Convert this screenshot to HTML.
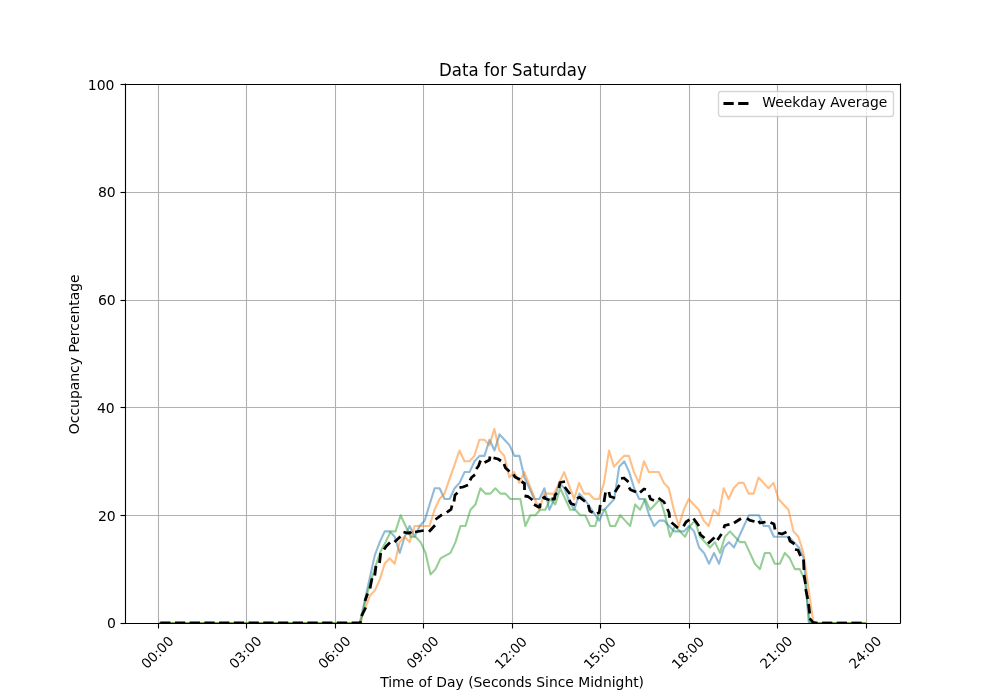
<!DOCTYPE html>
<html lang="en"><head><meta charset="utf-8"><title>Data for Saturday</title>
<style>html,body{margin:0;padding:0;background:#fff}body{width:1000px;height:700px;overflow:hidden}svg{display:block}text{font-family:"DejaVu Sans","Liberation Sans",sans-serif;fill:#000}</style></head><body>
<svg width="1000" height="700" viewBox="0 0 1000 700">
<rect x="0" y="0" width="1000" height="700" fill="#ffffff"/>
<defs><clipPath id="ax"><rect x="125" y="84" width="775" height="539"/></clipPath></defs>
<g stroke="#b0b0b0" stroke-width="1.111" fill="none" clip-path="url(#ax)">
<line x1="158.5" y1="84" x2="158.5" y2="623"/>
<line x1="246.5" y1="84" x2="246.5" y2="623"/>
<line x1="335.5" y1="84" x2="335.5" y2="623"/>
<line x1="423.5" y1="84" x2="423.5" y2="623"/>
<line x1="512.5" y1="84" x2="512.5" y2="623"/>
<line x1="600.5" y1="84" x2="600.5" y2="623"/>
<line x1="689.5" y1="84" x2="689.5" y2="623"/>
<line x1="777.5" y1="84" x2="777.5" y2="623"/>
<line x1="866.5" y1="84" x2="866.5" y2="623"/>
<line x1="125" y1="623.5" x2="900" y2="623.5"/>
<line x1="125" y1="515.5" x2="900" y2="515.5"/>
<line x1="125" y1="407.5" x2="900" y2="407.5"/>
<line x1="125" y1="300.5" x2="900" y2="300.5"/>
<line x1="125" y1="192.5" x2="900" y2="192.5"/>
<line x1="125" y1="84.5" x2="900" y2="84.5"/>
</g>
<g stroke="#000" stroke-width="1.111" fill="none">
<line x1="158.5" y1="623.5" x2="158.5" y2="628.5"/>
<line x1="246.5" y1="623.5" x2="246.5" y2="628.5"/>
<line x1="335.5" y1="623.5" x2="335.5" y2="628.5"/>
<line x1="423.5" y1="623.5" x2="423.5" y2="628.5"/>
<line x1="512.5" y1="623.5" x2="512.5" y2="628.5"/>
<line x1="600.5" y1="623.5" x2="600.5" y2="628.5"/>
<line x1="689.5" y1="623.5" x2="689.5" y2="628.5"/>
<line x1="777.5" y1="623.5" x2="777.5" y2="628.5"/>
<line x1="866.5" y1="623.5" x2="866.5" y2="628.5"/>
<line x1="125.5" y1="623.5" x2="120.5" y2="623.5"/>
<line x1="125.5" y1="515.5" x2="120.5" y2="515.5"/>
<line x1="125.5" y1="407.5" x2="120.5" y2="407.5"/>
<line x1="125.5" y1="300.5" x2="120.5" y2="300.5"/>
<line x1="125.5" y1="192.5" x2="120.5" y2="192.5"/>
<line x1="125.5" y1="84.5" x2="120.5" y2="84.5"/>
</g>
<g fill="none" stroke-linejoin="round" clip-path="url(#ax)">
<polyline stroke="#1f77b4" stroke-opacity="0.5" stroke-width="2.083" stroke-linecap="square" points="160.20,623.00 359.79,623.00 374.76,555.36 379.75,542.15 384.74,531.37 389.73,531.37 394.72,536.76 399.71,552.93 404.69,536.76 409.68,525.98 414.67,536.76 419.66,525.98 424.65,520.59 429.64,504.42 434.63,488.25 439.62,488.25 444.61,499.03 449.60,499.03 454.58,488.25 459.57,482.86 464.56,472.08 469.55,472.08 474.54,461.30 479.53,455.91 484.52,455.91 489.51,439.74 494.50,450.52 499.49,434.35 504.48,439.74 509.46,445.13 514.45,455.91 519.44,455.91 524.43,477.47 529.42,488.25 534.41,499.03 539.40,499.03 544.39,488.25 549.38,509.81 554.37,499.03 559.35,482.86 564.34,488.25 569.33,501.73 574.32,509.81 579.31,493.64 584.30,499.03 589.29,506.04 594.28,513.58 599.27,520.59 604.25,509.81 609.24,504.42 614.23,499.03 619.22,466.69 624.21,461.30 629.20,472.08 634.19,488.25 639.18,499.03 644.17,499.03 649.16,515.20 654.14,525.98 659.13,520.59 664.12,520.59 669.11,525.98 674.10,531.37 679.09,531.37 684.08,531.37 689.07,525.98 694.06,531.37 699.05,547.54 704.03,552.93 709.02,563.71 714.01,552.93 719.00,563.71 723.99,547.54 728.98,542.15 733.97,547.54 738.96,536.76 743.95,525.98 748.94,515.20 753.92,515.20 758.91,515.20 763.90,525.98 768.89,525.98 773.88,536.76 778.87,536.76 783.86,536.76 788.85,536.76 793.84,542.15 798.83,547.54 803.82,558.32 808.80,623.00 864.80,623.00"/>
<polyline stroke="#ff7f0e" stroke-opacity="0.5" stroke-width="2.083" stroke-linecap="square" points="160.20,623.00 359.75,623.00 364.74,609.52 369.73,596.05 374.71,590.66 379.69,579.88 384.68,563.71 389.67,558.32 394.65,563.71 399.63,542.15 404.62,536.76 409.61,542.15 414.59,525.98 419.57,525.98 424.56,525.98 429.55,525.98 434.53,509.81 439.51,499.03 444.50,493.64 449.49,479.09 454.47,465.07 459.45,450.52 464.44,461.30 469.43,461.30 474.41,455.91 479.39,439.74 484.38,439.74 489.37,445.13 494.35,428.96 499.33,450.52 504.32,455.91 509.31,477.47 514.29,472.08 519.27,482.86 524.26,472.08 529.25,484.48 534.23,497.41 539.22,509.81 544.20,493.64 549.18,493.64 554.17,493.64 559.15,482.86 564.14,472.08 569.12,485.56 574.11,499.03 579.10,482.86 584.08,493.64 589.07,493.64 594.05,499.03 599.03,499.03 604.02,482.86 609.00,450.52 613.99,466.69 618.98,461.30 623.96,455.91 628.95,455.91 633.93,472.08 638.91,482.86 643.90,461.30 648.88,472.08 653.87,472.08 658.86,472.08 663.84,482.86 668.83,488.25 673.81,509.81 678.80,525.98 683.78,509.81 688.76,499.03 693.75,504.42 698.74,509.81 703.72,520.59 708.71,525.98 713.69,509.81 718.67,515.20 723.66,488.25 728.64,499.03 733.63,488.25 738.62,482.86 743.60,482.86 748.59,493.64 753.57,493.64 758.56,477.47 763.54,482.86 768.53,488.25 773.51,482.86 778.50,499.03 783.48,504.42 788.47,509.81 793.45,531.37 798.43,536.76 803.42,552.93 813.39,623.00 864.80,623.00"/>
<polyline stroke="#2ca02c" stroke-opacity="0.5" stroke-width="2.083" stroke-linecap="square" points="160.20,623.00 360.68,623.00 365.67,598.75 370.66,581.50 375.65,565.87 380.64,551.31 385.63,542.15 390.62,531.37 395.61,531.37 400.60,515.20 405.59,525.98 410.58,536.76 415.57,536.76 420.56,542.15 425.55,552.93 430.54,574.49 435.53,569.10 440.52,558.32 445.51,555.62 450.50,552.93 455.49,542.15 460.48,525.98 465.47,525.98 470.46,509.81 475.45,504.42 480.44,488.25 485.43,493.64 490.42,493.64 495.41,488.25 500.40,493.64 505.39,493.64 510.38,499.03 515.37,499.03 520.36,499.03 525.35,525.98 530.34,515.20 535.33,515.20 540.32,509.81 545.31,509.81 550.30,499.03 555.29,504.42 560.28,488.25 565.27,499.03 570.26,509.81 575.25,509.81 580.24,515.20 585.23,515.20 590.22,525.98 595.21,525.98 600.20,509.81 605.19,509.81 610.18,525.98 615.17,525.98 620.16,515.20 625.15,520.59 630.14,525.98 635.13,504.42 640.12,509.81 645.11,499.03 650.10,509.81 655.09,504.42 660.08,499.03 665.07,515.20 670.06,536.76 675.05,525.98 680.04,531.37 685.03,536.76 690.02,525.98 695.01,520.59 700.00,536.76 704.99,542.15 709.98,547.54 714.97,542.15 719.96,552.93 724.95,536.76 729.94,531.37 734.93,536.76 739.92,542.15 744.91,542.15 749.90,552.93 754.89,563.71 759.88,569.10 764.87,552.93 769.86,552.93 774.85,563.71 779.84,563.71 784.83,552.93 789.82,558.32 794.81,569.10 799.80,569.10 804.79,579.88 809.78,623.00 864.80,623.00"/>
<g stroke="#000000" stroke-width="2.778" stroke-linecap="butt" stroke-linejoin="round" fill="none" clip-path="url(#ax)">
<line x1="160.23" y1="623" x2="351" y2="623" stroke-dasharray="10.278 4.444"/>
<polyline points="351.60,623.00 360.30,623.00 360.90,621.20"/>
<polyline points="361.50,616.00 365.75,607.50"/>
<polyline points="365.00,601.00 367.60,593.50"/>
<polyline points="370.00,588.50 371.75,579.50 372.80,580.20"/>
<polyline points="374.75,575.50 376.00,566.00"/>
<polyline points="379.50,563.00 380.70,553.00"/>
<polyline points="384.00,549.50 386.00,546.50 390.00,542.50"/>
<polyline points="394.50,542.00 400.50,536.50"/>
<polyline points="403.50,532.00 407.00,533.00 410.00,533.00 411.00,531.50"/>
<polyline points="415.00,532.00 423.70,530.50"/>
<polyline points="429.00,531.70 435.00,525.20"/>
<polyline points="435.50,519.50 442.00,514.70"/>
<polyline points="446.80,512.30 451.00,509.30 452.00,505.50"/>
<polyline points="454.00,501.50 455.00,495.00 457.50,492.70"/>
<polyline points="459.50,487.70 463.00,487.00 468.00,485.00"/>
<polyline points="470.00,480.30 471.50,477.50 475.00,474.70"/>
<polyline points="476.20,469.00 478.50,466.00 480.50,460.50"/>
<polyline points="484.50,462.50 489.50,460.00 490.00,456.50"/>
<polyline points="493.50,457.80 498.00,459.00 501.00,461.00"/>
<polyline points="504.00,464.00 505.50,468.00 509.50,471.50"/>
<polyline points="513.50,474.30 515.00,477.00 520.00,479.50"/>
<polyline points="521.50,481.50 524.50,483.50 524.50,490.00"/>
<polyline points="524.50,496.00 528.00,496.50 532.50,500.00"/>
<polyline points="534.00,504.50 538.50,507.00 540.00,507.00 540.00,503.50"/>
<polyline points="542.50,498.50 544.50,497.00 545.00,498.50 549.50,500.00"/>
<polyline points="551.50,499.00 554.50,499.00 555.00,495.00 557.00,493.00"/>
<polyline points="559.00,488.00 560.00,482.50 565.00,481.50"/>
<polyline points="564.70,487.00 570.00,494.00"/>
<polyline points="569.20,500.00 571.00,503.50 575.00,505.00"/>
<polyline points="577.00,498.50 579.50,497.20 585.00,501.50"/>
<polyline points="588.25,505.00 589.75,511.00 592.75,512.50"/>
<polyline points="597.00,513.50 599.25,512.50 600.25,505.00"/>
<polyline points="604.00,502.00 605.50,492.50"/>
<polyline points="609.00,492.00 610.00,496.50 615.00,498.00"/>
<polyline points="615.00,492.00 619.50,485.00"/>
<polyline points="621.00,478.50 624.00,478.00 628.50,482.00"/>
<polyline points="629.00,487.50 630.50,489.70 636.00,492.00"/>
<polyline points="640.00,492.50 644.00,489.00 646.00,489.50"/>
<polyline points="649.00,495.00 650.50,499.00 654.00,500.50"/>
<polyline points="658.50,498.00 664.00,502.00 665.00,504.00"/>
<polyline points="667.30,509.00 669.00,512.50 669.70,517.80"/>
<polyline points="671.50,522.50 678.00,528.00"/>
<polyline points="683.50,526.30 686.00,522.00 689.50,519.70"/>
<polyline points="693.50,518.50 699.00,526.00"/>
<polyline points="699.50,532.00 700.50,534.70 704.50,538.00"/>
<polyline points="708.00,543.50 714.50,537.50"/>
<polyline points="717.50,540.00 721.50,534.00"/>
<polyline points="724.00,528.20 724.50,525.50 729.50,524.30"/>
<polyline points="734.00,523.00 741.00,518.50"/>
<polyline points="747.00,518.30 750.00,520.30 754.50,521.50"/>
<polyline points="758.50,521.00 760.00,523.00 765.50,522.00"/>
<polyline points="770.50,522.50 774.00,524.00 775.00,529.50"/>
<polyline points="778.00,533.00 782.00,534.00 786.50,532.00"/>
<polyline points="788.50,536.50 790.00,541.00 794.50,544.00"/>
<polyline points="795.00,549.50 798.00,550.00 800.50,556.00"/>
<polyline points="803.50,559.50 804.00,570.00"/>
<polyline points="804.00,575.00 805.50,584.00"/>
<polyline points="805.70,589.00 807.75,599.00"/>
<polyline points="808.50,604.00 809.75,613.50"/>
<polyline points="809.60,618.30 813.00,622.30 817.50,623.00"/>
<polyline points="822.00,623.00 832.30,623.00"/>
<polyline points="836.70,623.00 847.00,623.00"/>
<polyline points="851.40,623.00 861.70,623.00"/>
</g>
</g>
<g stroke="#000" stroke-width="1.111" fill="none" stroke-linecap="square">
<line x1="125.5" y1="84" x2="125.5" y2="623"/>
<line x1="900.5" y1="84" x2="900.5" y2="623"/>
<line x1="125" y1="623.5" x2="900" y2="623.5"/>
<line x1="125" y1="84.5" x2="900" y2="84.5"/>
</g>
<text font-size="13.889" transform="translate(147.02 669.49) rotate(-45) scale(0.97 0.98)">00:00</text>
<text font-size="13.889" transform="translate(235.02 669.49) rotate(-45) scale(0.97 0.98)">03:00</text>
<text font-size="13.889" transform="translate(324.02 669.49) rotate(-45) scale(0.97 0.98)">06:00</text>
<text font-size="13.889" transform="translate(412.21 669.49) rotate(-45) scale(0.97 0.98)">09:00</text>
<text font-size="13.889" transform="translate(500.46 670.12) rotate(-45) scale(0.97 0.98)">12:00</text>
<text font-size="13.889" transform="translate(589.46 670.12) rotate(-45) scale(0.97 0.98)">15:00</text>
<text font-size="13.889" transform="translate(677.52 670.05) rotate(-45) scale(0.97 0.98)">18:00</text>
<text font-size="13.889" transform="translate(765.83 669.49) rotate(-45) scale(0.97 0.98)">21:00</text>
<text font-size="13.889" transform="translate(854.77 669.49) rotate(-45) scale(0.97 0.98)">24:00</text>
<text font-size="13.889" text-anchor="end" transform="translate(115.90 627.53) scale(1.01 1)">0</text>
<text font-size="13.889" text-anchor="end" transform="translate(115.78 520.60) scale(1.01 1)">20</text>
<text font-size="13.889" text-anchor="end" transform="translate(114.78 412.55) scale(1.01 1)">40</text>
<text font-size="13.889" text-anchor="end" transform="translate(115.78 304.50) scale(1.01 1)">60</text>
<text font-size="13.889" text-anchor="end" transform="translate(115.78 196.58) scale(1.01 1)">80</text>
<text font-size="13.889" text-anchor="end" transform="translate(114.53 89.53) scale(1.01 1)">100</text>
<text font-size="13.889" text-anchor="middle" transform="translate(512.10 686.64) scale(1 1.02)">Time of Day (Seconds Since Midnight)</text>
<text font-size="13.889" text-anchor="middle" transform="translate(78.57 354.25) rotate(-90) scale(1.003 1)">Occupancy Percentage</text>
<text font-size="16.667" text-anchor="middle" transform="translate(512.94 75.67) scale(0.995 1.07)">Data for Saturday</text>
<rect x="718.5" y="91.5" width="175" height="25" rx="2.78" ry="2.78" fill="#ffffff" fill-opacity="0.8" stroke="#cccccc" stroke-opacity="0.8" stroke-width="1.389"/>
<line x1="723.45" y1="103.5" x2="751.3" y2="103.5" stroke="#000" stroke-width="2.778" stroke-dasharray="10.278 4.444"/>
<text font-size="13.889" transform="translate(762.30 107.05) scale(1 1.04)">Weekday Average</text>
</svg></body></html>
